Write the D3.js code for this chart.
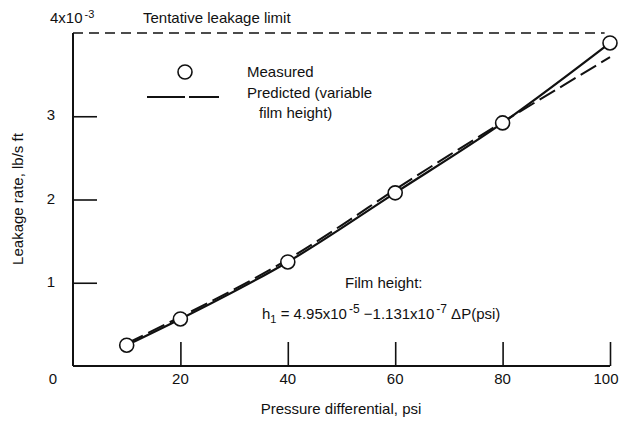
<!DOCTYPE html>
<html>
<head>
<meta charset="utf-8">
<script src="https://cdn.jsdelivr.net/npm/d3@7"></script>
<style>
  body { margin: 0; background: #ffffff; }
  text { font-family: "Liberation Sans", Arial, sans-serif; fill: #111; font-size: 15px; }
</style>
</head>
<body>
<svg id="chart" width="620" height="424"></svg>
<script>
// Measured leakage (10^-3 lb/s ft) vs pressure differential (psi)
var measured_psi = [10, 20, 40, 60, 80, 100];
var measured_rate = [0.25, 0.565, 1.25, 2.08, 2.92, 3.88];

// Predicted (variable film height)
var predicted_psi = [10, 20, 30, 40, 50, 60, 70, 80, 90, 100];
var predicted_rate = [0.27, 0.59, 0.92, 1.28, 1.69, 2.12, 2.53, 2.93, 3.32, 3.71];

var x_ticks = [20, 40, 60, 80, 100];
var y_ticks = [1, 2, 3];
var leakage_limit = 4;

var svg = d3.select("#chart");

var x = d3.scaleLinear().domain([0, 100]).range([73, 610]);
var y = d3.scaleLinear().domain([0, 4]).range([366, 33]);

// Axes drawn as plain lines, ticks point inward
var x_axis = svg.append("g").attr("transform", "translate(0," + y(0) + ")")
	.call(d3.axisTop(x).tickValues(x_ticks).tickSize(24).tickFormat(""));
var y_axis = svg.append("g").attr("transform", "translate(" + x(0) + ",0)")
	.call(d3.axisRight(y).tickValues(y_ticks).tickSize(24).tickFormat(""));
[x_axis, y_axis].forEach(function(g)
{
	g.select(".domain").attr("stroke", "#111").attr("stroke-width", 2);
	g.selectAll(".tick line").attr("stroke", "#111").attr("stroke-width", 1.6);
});
// Re-draw domains without the outer tick stubs
x_axis.select(".domain").attr("d", "M" + x(0) + ",0H" + x(100));
y_axis.select(".domain").attr("d", "M0," + y(0) + "V" + y(4));

// Tick labels (last one nudged in so it stays on the page)
svg.selectAll(".xlab").data(x_ticks).enter().append("text")
	.attr("x", function(d) { return Math.min(x(d), 606); })
	.attr("y", 384)
	.attr("text-anchor", "middle")
	.text(function(d) { return d; });
svg.selectAll(".ylab").data(y_ticks).enter().append("text")
	.attr("x", 51)
	.attr("y", function(d) { return y(d) + 4; })
	.attr("text-anchor", "middle")
	.text(function(d) { return d; });
svg.append("text").attr("x", 53).attr("y", 384).attr("text-anchor", "middle").text("0");

var top_label = svg.append("text").attr("x", 50).attr("y", 23);
top_label.append("tspan").text("4x10");
top_label.append("tspan").attr("dx", 2).attr("dy", -5).style("font-size", "11px").text("-3");

// Tentative leakage limit
svg.append("line")
	.attr("x1", x(0)).attr("x2", x(99))
	.attr("y1", y(leakage_limit)).attr("y2", y(leakage_limit))
	.attr("stroke", "#111").attr("stroke-width", 1.5)
	.attr("stroke-dasharray", "10,6");
svg.append("text").attr("x", 143).attr("y", 23).text("Tentative leakage limit");

// Predicted curve (dashed)
var line = d3.line().curve(d3.curveMonotoneX);
svg.append("path")
	.attr("d", line(predicted_psi.map(function(p, i) { return [x(p), y(predicted_rate[i])]; })))
	.attr("fill", "none").attr("stroke", "#111").attr("stroke-width", 2)
	.attr("stroke-dasharray", "18,6");

// Measured curve (solid) and points
svg.append("path")
	.attr("d", line(measured_psi.map(function(p, i) { return [x(p), y(measured_rate[i])]; })))
	.attr("fill", "none").attr("stroke", "#111").attr("stroke-width", 2.2);
svg.selectAll(".pt").data(measured_psi).enter().append("circle")
	.attr("cx", function(d) { return x(d); })
	.attr("cy", function(d, i) { return y(measured_rate[i]); })
	.attr("r", 7)
	.attr("fill", "#fff").attr("stroke", "#111").attr("stroke-width", 1.6);

// Legend
svg.append("circle").attr("cx", 185).attr("cy", 72).attr("r", 7)
	.attr("fill", "#fff").attr("stroke", "#111").attr("stroke-width", 1.6);
svg.append("text").attr("x", 247).attr("y", 77).text("Measured");
svg.append("line").attr("x1", 147).attr("x2", 219).attr("y1", 97).attr("y2", 97)
	.attr("stroke", "#111").attr("stroke-width", 2).attr("stroke-dasharray", "38,4");
svg.append("text").attr("x", 247).attr("y", 98).text("Predicted (variable");
svg.append("text").attr("x", 259).attr("y", 118).text("film height)");

// Film height note
svg.append("text").attr("x", 345).attr("y", 288).text("Film height:");
var eq = svg.append("text").attr("x", 262).attr("y", 319);
eq.append("tspan").text("h");
eq.append("tspan").attr("dy", 4).style("font-size", "11px").text("1");
eq.append("tspan").attr("dy", -4).text(" = 4.95x10");
eq.append("tspan").attr("dx", 2).attr("dy", -6).style("font-size", "12px").text("-5");
eq.append("tspan").attr("dy", 6).text(" \u22121.131x10");
eq.append("tspan").attr("dx", 2).attr("dy", -6).style("font-size", "12px").text("-7");
eq.append("tspan").attr("dy", 6).text(" \u0394P(psi)");

// Axis titles
svg.append("text").attr("x", 341).attr("y", 414).attr("text-anchor", "middle")
	.text("Pressure differential, psi");
svg.append("text").attr("transform", "translate(23,199) rotate(-90)")
	.attr("text-anchor", "middle")
	.text("Leakage rate, lb/s ft");
</script>
</body>
</html>
